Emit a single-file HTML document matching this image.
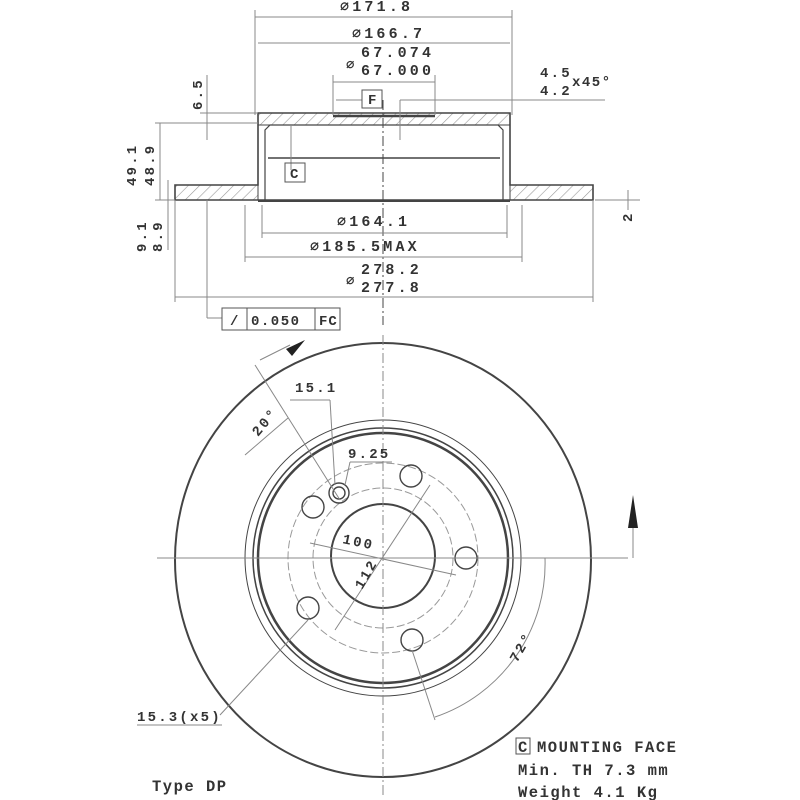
<!DOCTYPE html>
<html><head><style>
body{margin:0;background:#fff}
svg{display:block}
text{font-family:"Liberation Mono",monospace;font-weight:bold;fill:#333;font-size:14px;letter-spacing:2.2px}
.w{letter-spacing:3.2px;font-size:15px}
.b{font-size:15.5px;letter-spacing:1.5px}
</style></head><body>
<svg width="800" height="800" viewBox="0 0 800 800" xmlns="http://www.w3.org/2000/svg">
<defs>
<pattern id="h" width="8" height="8" patternUnits="userSpaceOnUse" patternTransform="rotate(45)">
<line x1="0" y1="0" x2="0" y2="8" stroke="#999" stroke-width="1.2"/></pattern>
</defs>
<g stroke="#444" fill="none" stroke-width="1">
<rect x="175" y="185" width="83" height="15" fill="url(#h)"/>
<rect x="510" y="185" width="83" height="15" fill="url(#h)"/>
<rect x="258" y="113" width="252" height="12" fill="url(#h)"/>
<path d="M175,185 H258 V113 H510 V185 H593 V200 H175Z" stroke-width="1.6"/>
<path d="M265,200 V130 L270,125 H498 L503,130 V200" stroke-width="1.2"/>
<line x1="268" y1="158" x2="500" y2="158" stroke-width="1.4"/>
<line x1="258" y1="201" x2="510" y2="201" stroke-width="2"/>
<line x1="333" y1="116" x2="435" y2="116" stroke-width="2.5"/>
<line x1="383" y1="100" x2="383" y2="325" stroke-dasharray="10,3,2,3"/>
<g stroke="#888">
<line x1="255" y1="10" x2="255" y2="115"/><line x1="512" y1="10" x2="512" y2="115"/>
<line x1="255" y1="17" x2="512" y2="17"/>
<line x1="258" y1="43" x2="510" y2="43"/>
<line x1="333" y1="75" x2="333" y2="115"/><line x1="435" y1="75" x2="435" y2="115"/>
<line x1="333" y1="82" x2="435" y2="82"/>
<line x1="262" y1="205" x2="262" y2="238"/><line x1="507" y1="205" x2="507" y2="238"/>
<line x1="262" y1="233" x2="507" y2="233"/>
<line x1="245" y1="205" x2="245" y2="262"/><line x1="522" y1="205" x2="522" y2="262"/>
<line x1="245" y1="257" x2="522" y2="257"/>
<line x1="175" y1="200" x2="175" y2="302"/><line x1="593" y1="200" x2="593" y2="302"/>
<line x1="175" y1="297" x2="593" y2="297"/>
<line x1="400" y1="100" x2="605" y2="100"/><line x1="400" y1="100" x2="400" y2="140"/>
<line x1="207" y1="75" x2="207" y2="140"/><line x1="200" y1="113" x2="258" y2="113"/>
<line x1="155" y1="123" x2="258" y2="123"/>
<line x1="160" y1="123" x2="160" y2="200"/><line x1="155" y1="200" x2="175" y2="200"/>
<line x1="168" y1="180" x2="168" y2="250"/>
<line x1="595" y1="200" x2="640" y2="200"/><line x1="628" y1="190" x2="628" y2="210"/>
<line x1="207" y1="200" x2="207" y2="318"/><line x1="207" y1="318" x2="222" y2="318"/>
<line x1="291" y1="125" x2="291" y2="170"/>
<line x1="336" y1="100" x2="362" y2="100"/>
</g>
<rect x="222" y="308" width="118" height="22" stroke="#555"/>
<line x1="247" y1="308" x2="247" y2="330" stroke="#555"/><line x1="315" y1="308" x2="315" y2="330" stroke="#555"/>
<rect x="362" y="90" width="20" height="18" stroke="#555"/>
<rect x="285" y="163" width="20" height="19" stroke="#555"/>
<ellipse cx="383" cy="560" rx="208" ry="217" stroke-width="2"/>
<circle cx="383" cy="558" r="138"/>
<circle cx="383" cy="558" r="130" stroke-width="1.5"/>
<circle cx="383" cy="558" r="125" stroke-width="2.5"/>
<circle cx="383" cy="556" r="52" stroke-width="2"/>
<circle cx="383" cy="558" r="70" stroke="#999" stroke-dasharray="8,3"/>
<circle cx="383" cy="558" r="95" stroke="#999" stroke-dasharray="8,3"/>
<g stroke-width="1.4">
<circle cx="313" cy="507" r="11"/><circle cx="411" cy="476" r="11"/><circle cx="466" cy="558" r="11"/>
<circle cx="412" cy="640" r="11"/><circle cx="308" cy="608" r="11"/>
<circle cx="339" cy="493" r="10"/><circle cx="339" cy="493" r="6"/>
</g>
<g stroke="#888">
<line x1="157" y1="558" x2="628" y2="558"/>
<line x1="383" y1="335" x2="383" y2="795" stroke-dasharray="10,3,2,3"/>
<line x1="310" y1="543" x2="456" y2="575"/>
<line x1="335" y1="630" x2="430" y2="485"/>
<line x1="255" y1="365" x2="340" y2="500"/>
<line x1="245" y1="455" x2="288" y2="418"/>
<line x1="260" y1="360" x2="290" y2="345"/>
<line x1="290" y1="400" x2="330" y2="400"/><line x1="330" y1="400" x2="335" y2="485"/>
<line x1="350" y1="462" x2="392" y2="462"/><line x1="350" y1="462" x2="345" y2="485"/>
<line x1="308" y1="620" x2="220" y2="715"/><line x1="137" y1="725" x2="222" y2="725"/>
<path d="M545,558 A162,162 0 0 1 435,717"/>
<line x1="412" y1="650" x2="435" y2="720"/>
<line x1="633" y1="558" x2="633" y2="525"/>
</g>
<path d="M633,495 L628,528 L638,528Z" fill="#222" stroke="none"/>
<path d="M305,340 L286,349 L292,356Z" fill="#222" stroke="none"/>
</g>
<text class="w" x="340" y="11">⌀171.8</text>
<text class="w" x="352" y="38">⌀166.7</text>
<text class="w" x="361" y="57">67.074</text>
<text class="w" x="361" y="75">67.000</text>
<text x="346" y="69" font-size="15">⌀</text>
<text x="368" y="104" font-size="12">F</text>
<text x="290" y="178" font-size="12">C</text>
<text x="540" y="77">4.5</text>
<text x="540" y="95">4.2</text>
<text x="572" y="86" font-size="11" style="letter-spacing:1.5px">x45°</text>
<text class="w" x="337" y="226">⌀164.1</text>
<text class="w" x="310" y="251">⌀185.5MAX</text>
<text class="w" x="361" y="274">278.2</text>
<text class="w" x="361" y="292">277.8</text>
<text x="346" y="285" font-size="15">⌀</text>
<text x="230" y="325">/</text>
<text x="251" y="325" style="letter-spacing:1.5px">0.050</text>
<text x="319" y="325" style="letter-spacing:1px">FC</text>
<text transform="translate(202,110) rotate(-90)">6.5</text>
<text transform="translate(136,186) rotate(-90)">49.1</text>
<text transform="translate(154,186) rotate(-90)">48.9</text>
<text transform="translate(146,252) rotate(-90)">9.1</text>
<text transform="translate(162,252) rotate(-90)">8.9</text>
<text transform="translate(632,222) rotate(-90)">2</text>
<text x="295" y="392">15.1</text>
<text x="348" y="458">9.25</text>
<text transform="translate(258,437) rotate(-50)">20°</text>
<text transform="translate(342,543) rotate(12)">100</text>
<text transform="translate(362,590) rotate(-60)">112</text>
<text transform="translate(517,663) rotate(-60)">72°</text>
<text x="137" y="721">15.3(x5)</text>
<rect x="516" y="738" width="14" height="16" fill="none" stroke="#555"/>
<text class="b" x="518" y="752">C</text>
<text class="b" x="537" y="752">MOUNTING FACE</text>
<text class="b" x="518" y="775">Min. TH 7.3 mm</text>
<text class="b" x="518" y="797">Weight 4.1 Kg</text>
<text class="b" x="152" y="791">Type DP</text>
</svg>
</body></html>
